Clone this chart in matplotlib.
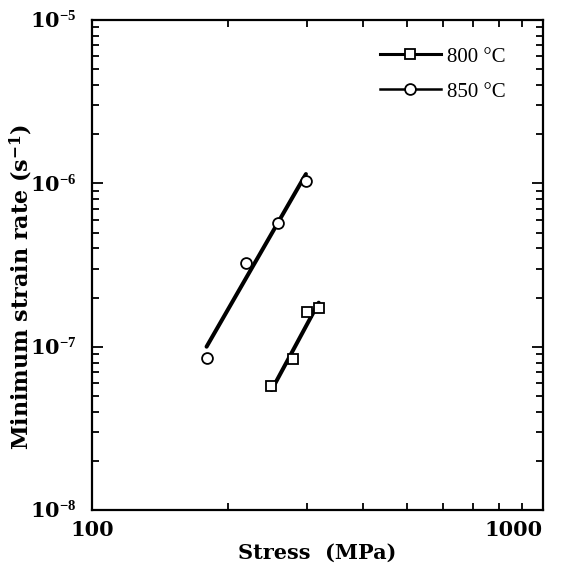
import numpy as np
import matplotlib
matplotlib.use('Agg')
import matplotlib.pyplot as plt
from matplotlib.ticker import LogLocator, FixedLocator, FixedFormatter, NullFormatter

plt.rcParams['font.family'] = ['Liberation Serif', 'DejaVu Serif']
plt.rcParams['mathtext.fontset'] = 'custom'
plt.rcParams['mathtext.rm'] = 'Liberation Serif:bold'
plt.rcParams['mathtext.bf'] = 'DejaVu Serif:bold'
plt.rcParams['mathtext.it'] = 'Liberation Serif:bold'

# 数据
stress_850 = [179.6, 219.6, 258.1, 298.2]
rate_850 = [8.5e-8, 3.24e-7, 5.74e-7, 1.04e-6]
stress_800 = [249.0, 279.5, 299.2, 319.0]
rate_800 = [5.74e-8, 8.4e-8, 1.64e-7, 1.72e-7]

# 拟合线端点
fit_850_x = [179.6, 298.2]
fit_850_y = [1.0e-7, 1.14e-6]
fit_800_x = [250.3, 318.3]
fit_800_y = [5.43e-8, 1.86e-7]

labels = ['800 °C', '850 °C']
x_ticks = [100, 1000]
x_ticklabels = ['100', '1000']
y_ticks = [1e-8, 1e-7, 1e-6, 1e-5]
y_ticklabels = [r'$\mathbf{10}^{\mathrm{-8}}$', r'$\mathbf{10}^{\mathrm{-7}}$',
                r'$\mathbf{10}^{\mathrm{-6}}$', r'$\mathbf{10}^{\mathrm{-5}}$']

bold_font = 'DejaVu Serif'

fig = plt.figure(figsize=(5.74, 5.64), dpi=100)
ax = fig.add_axes([0.160, 0.0957, 0.786, 0.8688])

# 拟合直线
ax.plot(fit_800_x, fit_800_y, color='black', linewidth=2.9, solid_capstyle='round')
ax.plot(fit_850_x, fit_850_y, color='black', linewidth=2.9, solid_capstyle='round')

# 数据点
ax.plot(stress_800, rate_800, linestyle='none', marker='s', markersize=7.5,
        markerfacecolor='white', markeredgecolor='black', markeredgewidth=1.3)
ax.plot(stress_850, rate_850, linestyle='none', marker='o', markersize=7.8,
        markerfacecolor='white', markeredgecolor='black', markeredgewidth=1.3)

# 图例
h1, = ax.plot([], [], color='black', linewidth=2.2, marker='s', markersize=7.5,
              markerfacecolor='white', markeredgecolor='black', markeredgewidth=1.3)
h2, = ax.plot([], [], color='black', linewidth=1.8, marker='o', markersize=7.8,
              markerfacecolor='white', markeredgecolor='black', markeredgewidth=1.3)
ax.legend([h1, h2], labels, loc='upper left', frameon=False, fontsize=15,
          handlelength=2.93, handletextpad=0.3, labelspacing=0.74,
          borderpad=0, borderaxespad=0,
          bbox_to_anchor=((380 - 92) / 451, 0.945))

ax.set_xscale('log')
ax.set_yscale('log')
ax.set_xlim(100, 1000)
ax.set_ylim(1e-8, 1e-5)

ax.xaxis.set_major_locator(FixedLocator(x_ticks))
ax.xaxis.set_major_formatter(FixedFormatter(x_ticklabels))
ax.xaxis.set_minor_locator(LogLocator(base=10, subs=np.arange(2, 10)))
ax.xaxis.set_minor_formatter(NullFormatter())

ax.yaxis.set_major_locator(FixedLocator(y_ticks))
ax.yaxis.set_major_formatter(FixedFormatter(y_ticklabels))
ax.yaxis.set_minor_locator(LogLocator(base=10, subs=np.arange(2, 10)))
ax.yaxis.set_minor_formatter(NullFormatter())

ax.tick_params(which='both', direction='in', top=True, right=True, width=1.3)
ax.tick_params(which='major', length=8, labelsize=15)
ax.tick_params(axis='x', which='major', pad=7)
ax.tick_params(axis='y', which='major', pad=11)
ax.tick_params(which='minor', length=5)

fig.canvas.draw()
xl = ax.get_xticklabels()
for lab in xl:
    lab.set_fontfamily(bold_font)
    lab.set_fontweight('bold')
xl[0].set_horizontalalignment('center')
xl[-1].set_horizontalalignment('right')

for sp in ax.spines.values():
    sp.set_linewidth(1.6)

ax.set_xlabel('Stress  (MPa)', fontsize=15, fontweight='bold',
              fontfamily=bold_font, labelpad=2)
ax.set_ylabel(r'Minimum strain rate (s$^{\mathregular{-1}}$)', fontsize=16,
              fontweight='bold', fontfamily=bold_font)
ax.yaxis.set_label_coords((34 - 92) / 451, (510 - 287) / 490)

fig.savefig('out.png', dpi=100)
plt.close(fig)
